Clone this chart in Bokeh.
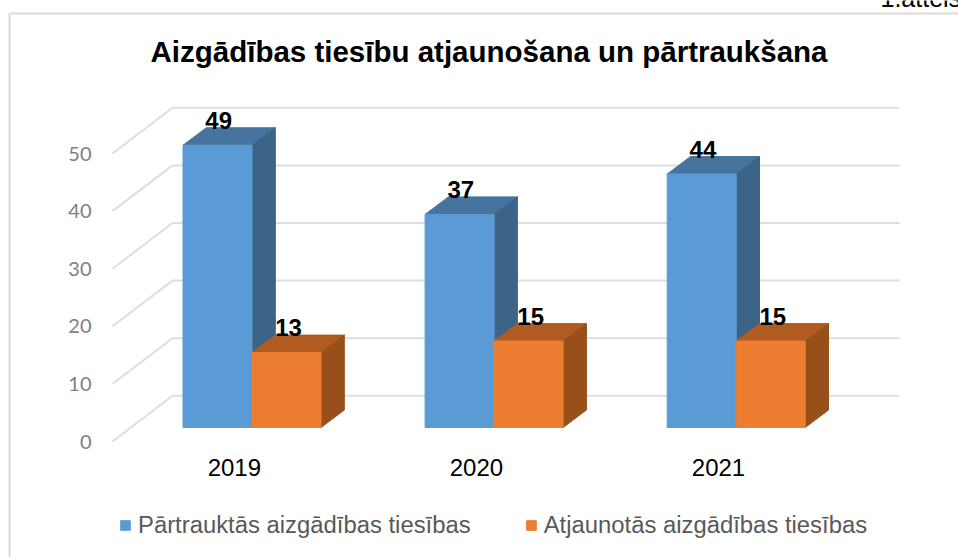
from bokeh.plotting import figure
from bokeh.embed import file_html
from bokeh.resources import INLINE
from bokeh.core.properties import value
from bokeh.models import Range1d, FixedTicker, Label, Legend, LegendItem

# --- data
years = ["2019", "2020", "2021"]
stopped = [49, 37, 44]
restored = [13, 15, 15]
series_names = ["Pārtrauktās aizgādības tiesības", "Atjaunotās aizgādības tiesības"]
value_ticks = [0, 10, 20, 30, 40, 50]
title_text = "Aizgādības tiesību atjaunošana un pārtraukšana"
note_text = "1.attēls"

# --- colours
BLUE, BLUE_TOP, BLUE_SIDE = "#5B9BD5", "#46749F", "#3B6487"
ORANGE, ORANGE_TOP, ORANGE_SIDE = "#ED7D31", "#B15B21", "#975019"
GRID = "#DEDEDE"
FRAME = "#D9D9D9"

# --- scales: pixels per data unit, and the pixel of the data origin
W, H = 958, 557
PX_X, PX_Y = 242.1, 5.76
X0_PX, Y0_PX = 251.5, 441


def dx(px):
    return (px - X0_PX) / PX_X


def dy(py):
    return (Y0_PX - py) / PX_Y


# --- pseudo-3D geometry, in data units
BAR_W = 69.0 / PX_X
BASE = 14 / PX_Y                 # bars stand behind the axis plane
DEPTH_X, DEPTH_Y = 23.3 / PX_X, 17.5 / PX_Y
WALL_X, WALL_Y = 60 / PX_X, 45.7 / PX_Y
AXIS_X, WALL_END = dx(112), dx(899)

p = figure(width=W, height=H, output_backend="svg", toolbar_location=None,
           x_range=Range1d(dx(0), dx(W)), y_range=Range1d(dy(H), dy(0)),
           min_border=0, background_fill_color="white", border_fill_color="white")
p.outline_line_color = None
p.grid.visible = False

# axes sit at fixed places inside the frame
yaxis, xaxis = p.yaxis[0], p.xaxis[0]
yaxis.fixed_location = AXIS_X
yaxis.ticker = FixedTicker(ticks=value_ticks)
yaxis.axis_line_color = None
yaxis.major_tick_line_color = None
yaxis.minor_tick_line_color = None
yaxis.major_label_standoff = 15
yaxis.major_label_text_font = "Lato"
yaxis.major_label_text_font_size = "20px"
yaxis.major_label_text_color = "#808080"

label_shift = -0.073
x_ticks = [i + label_shift for i in range(len(years))]
xaxis.fixed_location = 0
xaxis.ticker = FixedTicker(ticks=x_ticks)
xaxis.major_label_overrides = {t: y for t, y in zip(x_ticks, years)}
xaxis.axis_line_color = None
xaxis.major_tick_line_color = None
xaxis.minor_tick_line_color = None
xaxis.major_label_standoff = 11
xaxis.major_label_text_font = "Liberation Sans"
xaxis.major_label_text_font_size = "24px"
xaxis.major_label_text_color = "#000000"

# chart frame
p.segment(x0=[dx(9), dx(9)], y0=[dy(13), dy(13)], x1=[dx(W), dx(9)], y1=[dy(13), dy(H)],
          line_color=FRAME, line_width=2)

# back wall gridlines and the slants leading to them
n = len(value_ticks)
p.segment(x0=[AXIS_X] * n, y0=value_ticks,
          x1=[AXIS_X + WALL_X] * n, y1=[v + WALL_Y for v in value_ticks],
          line_color=GRID, line_width=2)
p.segment(x0=[AXIS_X + WALL_X] * n, y0=[v + WALL_Y for v in value_ticks],
          x1=[WALL_END] * n, y1=[v + WALL_Y for v in value_ticks],
          line_color=GRID, line_width=2)


def draw_bars(values, left_shift, front, top, side):
    xl = [i + left_shift for i in range(len(values))]
    xr = [x + BAR_W for x in xl]
    yt = [BASE + v for v in values]
    p.patches([[a, a + DEPTH_X, b + DEPTH_X, b] for a, b in zip(xl, xr)],
              [[t, t + DEPTH_Y, t + DEPTH_Y, t] for t in yt],
              fill_color=top, line_color=top, line_width=1)
    p.patches([[b, b + DEPTH_X, b + DEPTH_X, b] for b in xr],
              [[BASE, BASE + DEPTH_Y, t + DEPTH_Y, t] for t in yt],
              fill_color=side, line_color=side, line_width=1)
    return p.quad(left=xl, right=xr, bottom=[BASE] * len(values), top=yt,
                  fill_color=front, line_color=front, line_width=1)


r_blue = draw_bars(stopped, -BAR_W, BLUE, BLUE_TOP, BLUE_SIDE)
r_orange = draw_bars(restored, 0, ORANGE, ORANGE_TOP, ORANGE_SIDE)

# data labels
for vals, shift in ((stopped, -33.3 / PX_X), (restored, 36.6 / PX_X)):
    p.text(x=[i + shift for i in range(len(vals))], y=[BASE + v + 25 / PX_Y for v in vals],
           text=[str(v) for v in vals], text_align="center", text_baseline="alphabetic",
           text_font=value("Liberation Sans"), text_font_style="bold",
           text_font_size="24px", text_color="black")

# title
p.add_layout(Label(x=dx(488.5), y=dy(51), text=title_text, text_align="center",
                   text_baseline="alphabetic", text_font="Liberation Sans",
                   text_font_style="bold", text_font_size="29.5px", text_color="black"))

# fragment of the caption above the chart
p.add_layout(Label(x=dx(880), y=dy(-3), text=note_text, text_baseline="alphabetic",
                   text_font="Liberation Sans", text_font_size="25px", text_color="black"))

# legend
legend = Legend(items=[LegendItem(label=series_names[0], renderers=[r_blue]),
                       LegendItem(label=series_names[1], renderers=[r_orange])],
                orientation="horizontal", location=(119, 18),
                glyph_width=12, glyph_height=12, label_standoff=7, spacing=54,
                padding=0, margin=0, border_line_color=None, background_fill_alpha=0,
                label_text_font="Liberation Sans", label_text_font_size="23.85px",
                label_text_color="#595959")
p.add_layout(legend, "center")

open("out.html", "w").write(file_html(p, INLINE))
